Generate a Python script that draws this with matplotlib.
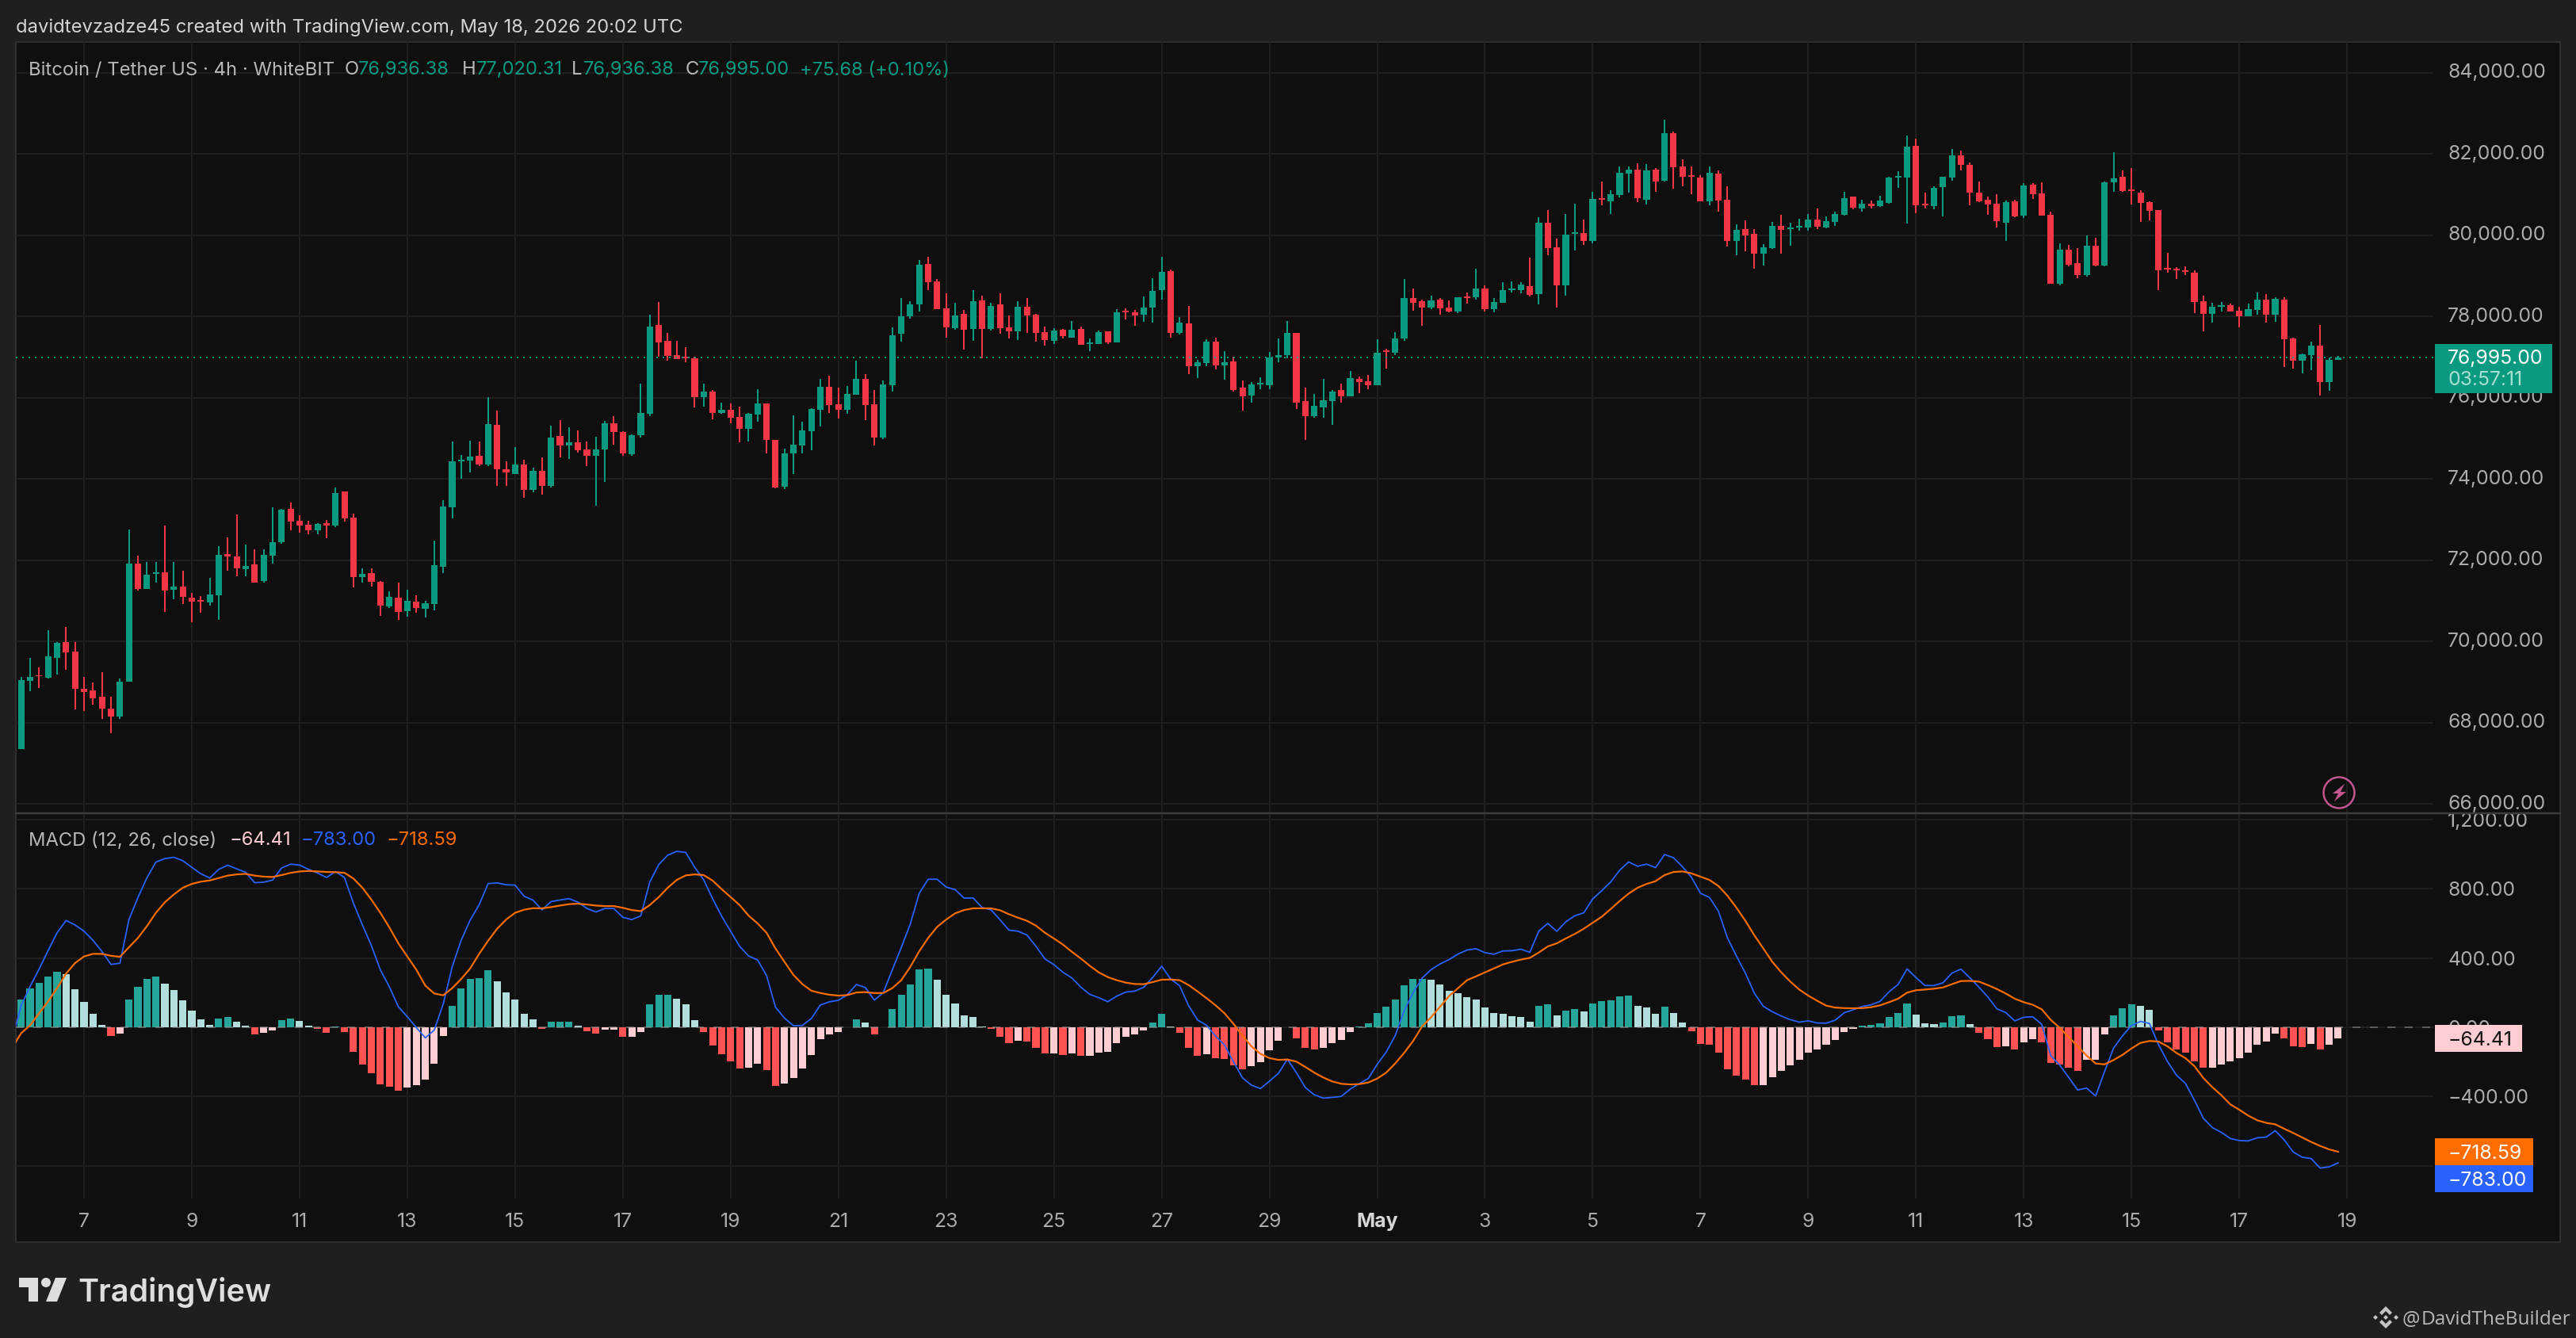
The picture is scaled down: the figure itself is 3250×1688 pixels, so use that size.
import matplotlib
matplotlib.use("Agg")
import matplotlib.pyplot as plt
from matplotlib.patches import Rectangle, Polygon, Circle
from matplotlib.transforms import Bbox

# 4h BTC/USDT candles
opens = [67354,69034,69170,69112,69600,69991,69756,68838,68799,68643,
68350,68155,69014,71924,71299,71670,71709,71280,71358,71084,
71026,70967,71143,72158,72100,71787,71904,71494,72119,72452,
73271,72979,72881,72744,72920,72862,73701,73057,71592,71690,
71475,70869,71084,70752,70987,70810,70928,71846,73310,74424,
74444,74561,74365,75322,74248,74131,74365,73740,74209,73838,
75049,74815,74893,74717,74561,74717,75361,75147,74600,75069,
75596,77779,77408,77056,77017,76978,76021,76158,75622,75701,
75525,75232,75583,75857,74958,73813,74626,74822,75173,75701,
76275,75832,75695,76066,76457,75832,75012,76301,77570,78000,
78293,79289,78859,78195,77707,78059,77688,78391,77688,78293,
77727,77629,78234,78039,77609,77395,77668,77473,77688,77316,
77316,77629,77355,78137,78098,78039,78215,78645,79113,77590,
77824,76770,76848,77375,76789,76887,76242,76047,76320,76301,
76984,77043,77590,75910,75539,75754,75910,76184,76027,76457,
76398,76301,77160,77102,77453,78449,78371,78215,78410,78215,
78117,78488,78469,78684,78176,78332,78645,78645,78742,78547,
80305,79699,78762,80031,80051,79857,80910,80832,80988,81515,
81612,80871,81612,81339,82509,81690,81475,81417,80832,81515,
80871,79857,80150,80032,79545,79681,80228,80150,80189,80189,
80384,80189,80325,80500,80949,80656,80773,80715,80793,81417,
81417,82197,80773,80715,81183,81417,81963,81729,81046,80871,
80773,80306,80832,80481,81241,81027,80500,78804,79642,79311,
79018,79740,79253,81300,81436,81125,81046,80812,80618,79194,
79175,79135,79077,78375,78063,78238,78277,78141,78004,78160,
78414,78043,78414,77458,76912,77049,77283,76386,76936]

closes = [69047,69131,69138,69639,69971,69737,68838,68760,68604,68350,
68155,69014,71924,71299,71651,71709,71260,71358,71104,70987,
70987,71162,72139,72100,71807,71866,71455,72139,72452,73252,
72959,72862,72744,72901,72862,73662,73037,71592,71670,71475,
70889,71104,70733,71006,70830,70947,71885,73329,74424,74463,
74541,74365,75342,74229,74151,74346,73740,74209,73838,75010,
74815,74893,74698,74561,74717,75361,75147,74619,75069,75615,
77759,77368,77036,76958,76978,76021,76158,75622,75701,75505,
75232,75603,75857,74958,73787,74626,74841,75193,75720,76275,
75818,75695,76086,76457,75813,75012,76320,77531,78000,78293,
79269,78840,78176,77727,78020,77668,78371,77688,78254,77707,
77629,78234,78020,77590,77414,77648,77512,77668,77297,77355,
77609,77355,78098,78098,78020,78215,78625,79094,77590,77844,
76770,76867,77375,76789,76867,76184,76027,76320,76359,76984,
77043,77590,75871,75539,75793,75930,76145,76027,76477,76379,
76301,77102,77121,77453,78449,78332,78215,78391,78195,78117,
78469,78449,78684,78176,78352,78645,78684,78781,78527,80305,
79680,78762,80012,80070,79855,80890,80871,81007,81534,81612,
80910,81592,81320,82509,81670,81436,81436,80832,81534,80851,
79857,80130,79994,79545,79701,80228,80130,80189,80228,80384,
80208,80345,80520,80910,80676,80773,80715,80851,81417,81456,
82177,80735,80735,81163,81436,81963,81729,81046,80832,80754,
80345,80812,80461,81222,81007,80481,78804,79642,79272,79018,
79740,79253,81300,81398,81086,81086,80793,80598,79135,79155,
79135,79097,78355,78063,78238,78277,78121,78004,78180,78414,
78043,78433,77439,76912,77068,77283,76386,76932,76995]

highs = [69125,69600,69366,70284,69991,70362,69991,69131,68995,69248,
68643,69092,72764,72119,71963,71963,72862,71963,71748,71201,
71123,71573,72354,72568,73135,72393,72276,72276,73310,73271,
73428,73115,72979,72920,72998,73799,73701,73154,71807,71807,
71494,71240,71455,71280,71143,71006,72490,73486,74912,74580,
74932,74912,76021,75680,74443,74776,74463,74268,74522,75303,
75440,75264,75186,74912,75030,75420,75537,75166,75088,76346,
78033,78345,77603,77408,77251,77017,76353,76197,75876,75857,
75779,75622,76216,75857,74958,74743,75564,75408,75740,76470,
76548,76242,76281,76906,76574,76184,76418,77727,78449,78371,
79387,79465,78918,78566,78332,78156,78645,78508,78332,78566,
78020,78371,78449,78059,77746,77707,77688,77883,77746,77453,
77648,77629,78176,78195,78156,78488,78937,79465,79152,77980,
78254,76926,77434,77473,77141,77004,76418,76379,76496,77121,
77453,77883,77590,76242,76086,76457,76184,76340,76652,76516,
76555,77434,77199,77609,78918,78684,78410,78508,78449,78391,
78469,78586,79172,78762,78449,78840,78859,78840,79445,80441,
80617,79914,80519,80773,80383,81066,81320,81105,81690,81690,
81768,81748,81651,82840,82548,81866,81690,81475,81690,81592,
81203,80266,80364,80150,79779,80325,80500,80306,80403,80520,
80656,80461,80578,81066,80949,80871,80851,80968,81436,81573,
82450,82372,81046,81203,81436,82119,82080,81788,81320,80949,
81007,80851,80871,81280,81280,81300,80578,79798,79760,79681,
79994,79935,81320,82041,81592,81651,81105,80832,80618,79565,
79214,79233,79135,78512,78336,78355,78316,78238,78316,78590,
78551,78472,78472,77478,77088,77380,77790,76990,77020]

lows = [67354,68780,68845,69092,69190,69307,68331,68292,68448,68096,
67745,68096,69014,71260,71299,71449,70733,71045,70928,70479,
70713,70889,70537,71748,71612,71612,71449,71455,71924,72413,
72744,72686,72647,72647,72549,72823,72959,71338,71449,71358,
70635,70830,70537,70615,70700,70596,70772,71690,73037,74014,
74170,74326,74307,73838,73819,74131,73545,73675,73617,73780,
74522,74483,74646,74307,73350,73935,74835,74561,74561,75010,
75544,77017,76919,76958,76880,75767,75787,75466,75603,75369,
74900,74919,75408,74626,73767,73748,74118,74626,74704,75290,
75622,75481,75598,76066,75442,74817,74973,76145,77375,77941,
78117,78645,78176,77473,77668,77180,77395,76971,77648,77570,
77453,77414,77590,77375,77277,77316,77453,77473,77297,77141,
77316,77316,77355,77922,77766,77863,77844,78410,77473,77551,
76574,76477,76770,76691,76438,76145,75676,75871,76203,76203,
76867,76965,75715,74953,75500,75500,75324,75871,76027,76106,
76203,76301,76711,77043,77395,78137,77766,78176,78039,78098,
78078,78312,78410,78117,78098,78332,78586,78566,78488,78293,
79504,78215,78508,79621,79758,79798,80735,80520,80930,81046,
80812,80754,81066,81320,81144,81203,81007,80832,80735,80578,
79720,79505,79603,79175,79253,79662,79545,79740,80111,80111,
80150,80169,80228,80481,80637,80578,80656,80695,80773,81163,
80286,80540,80656,80637,80461,81339,81592,80734,80812,80500,
80189,79857,80442,80422,80890,80481,78804,78765,79233,78940,
78979,79233,79233,81066,81066,80754,80325,80364,78648,79077,
78921,79019,78082,77634,77849,78121,78121,77735,78004,78043,
77848,77868,76755,76716,76600,76677,76055,76172,76936]

# MACD histogram and signal line
hist = [160,224,256,293,320,307,220,146,78,14,
-50,-37,160,233,279,293,252,215,156,96,
46,14,50,60,32,9,-41,-32,-18,41,
50,37,9,-9,-32,3,-27,-142,-215,-265,
-330,-343,-366,-348,-334,-302,-211,-50,124,224,
279,284,330,265,201,160,78,46,-9,32,
32,32,9,-23,-37,-14,-14,-55,-55,-27,
133,188,188,165,133,41,-27,-105,-156,-197,
-238,-233,-211,-247,-339,-325,-293,-238,-160,-69,
-41,-27,2,46,27,-41,2,105,188,247,
334,339,275,188,137,69,60,5,-9,-55,
-92,-78,-82,-119,-151,-151,-160,-151,-165,-165,
-146,-142,-92,-55,-41,-18,27,78,3,-32,
-119,-165,-156,-178,-183,-220,-243,-224,-201,-133,
-78,2,-64,-119,-128,-119,-92,-73,-27,3,
23,82,119,160,243,279,279,275,247,211,
197,174,160,114,82,78,64,60,32,124,
133,69,96,105,92,137,151,156,178,183,
124,114,78,119,82,27,-23,-96,-101,-146,
-243,-279,-302,-334,-334,-288,-252,-220,-188,-146,
-128,-101,-73,-27,-9,9,14,23,60,82,
137,73,23,18,27,64,69,18,-32,-69,
-114,-110,-128,-87,-69,-87,-206,-215,-233,-252,
-188,-188,-41,69,110,133,124,101,-18,-87,
-128,-146,-197,-233,-233,-215,-197,-178,-146,-101,
-82,-37,-64,-110,-114,-96,-128,-101,-64.41]

signal = [-34,12,81,150,226,310,371,409,424,424,
413,407,462,516,584,661,722,767,806,828,
841,848,862,876,883,886,876,870,868,879,
892,900,903,900,897,896,892,859,806,737,
661,577,485,409,333,241,195,185,226,279,
340,424,500,569,622,661,679,688,687,694,
703,711,714,709,703,700,700,690,677,671,
706,752,806,851,877,883,879,847,798,752,
706,645,600,546,455,378,302,249,211,198,
188,183,186,201,203,198,198,226,272,348,
439,516,580,622,658,677,687,687,687,676,
653,633,615,587,546,513,478,436,397,355,
317,290,272,258,250,249,261,275,276,272,
244,207,168,127,81,20,-49,-110,-153,-178,
-188,-186,-198,-229,-262,-290,-313,-326,-330,-328,
-319,-296,-262,-209,-148,-79,5,58,119,180,
226,272,294,317,340,363,378,391,401,432,
467,485,513,539,569,604,638,683,729,772,
806,828,844,879,897,900,889,870,851,816,
760,691,615,531,455,378,317,264,218,183,
153,125,114,111,110,111,116,127,145,165,
200,214,218,223,230,249,267,268,264,244,
221,195,165,145,130,104,43,-3,-56,-110,
-163,-209,-214,-189,-159,-122,-90,-79,-82,-110,
-148,-178,-224,-293,-346,-392,-445,-476,-510,-537,
-552,-560,-586,-610,-636,-662,-685,-705,-718.59]

# the bar just off the left edge, both lines run in from it
signal_before = -117
macd_before = -72

price_ticks = [66000,68000,70000,72000,74000,76000,78000,80000,82000,84000]
macd_ticks = [-800,-400,0,400,800,1200]
day_ticks = [7,19,31,43,55,67,79,91,103,115,127,139,151,163,175,187,199,211,223,235,247,259]
day_labels = ['7','9','11','13','15','17','19','21','23','25','27','29','May','3','5','7','9','11','13','15','17','19']

GREEN = '#089981'
RED = '#F23645'
GRID = '#1e1e1e'
AXIS_TXT = '#ababab'
W, H = 3250, 1688

plt.rcParams['font.family'] = ['Inter', 'DejaVu Sans']


def px(v):
    # pixels to points at dpi 100
    return v * 0.72


def rect(top, bottom, left=20, right=3070):
    return [left / W, 1 - bottom / H, (right - left) / W, (bottom - top) / H]


fig = plt.figure(figsize=(W / 100, H / 100), dpi=100, facecolor='#1f1f1f')

back = fig.add_axes([0, 0, 1, 1], zorder=0)
back.set_xlim(0, W)
back.set_ylim(H, 0)
back.axis('off')
back.add_patch(Rectangle((20, 53), 3210, 1514, fc='#0f0f0f', ec='#2e2e2e', lw=px(2)))

ax = fig.add_axes(rect(53, 1026), zorder=1, facecolor='none')
ax2 = fig.add_axes(rect(1026, 1512), zorder=1, facecolor='none', sharex=ax)

idx = list(range(len(closes)))

# candles
colors = [GREEN if c >= o else RED for o, c in zip(opens, closes)]
ax.vlines(idx, lows, highs, colors=colors, lw=px(2), zorder=3)
ax.bar(idx, [abs(c - o) for o, c in zip(opens, closes)],
       bottom=[min(o, c) for o, c in zip(opens, closes)],
       width=0.72, color=colors, lw=0, zorder=4)
ax.axhline(closes[-1], color=GREEN, lw=px(2), linestyle=(0, (1, 3)), zorder=5)

ax.set_ylim(65772, 84753)
ax.set_yticks(price_ticks)
ax.set_yticklabels(['{:,.2f}'.format(t) for t in price_ticks])

# macd panel
bar_colors = []
for i, h in enumerate(hist):
    prev = hist[i - 1] if i > 0 else h
    if h >= 0:
        bar_colors.append('#26A69A' if h >= prev else '#B2DFDB')
    else:
        bar_colors.append('#FF5252' if h < prev else '#FFCDD2')
macd_line = [s + h for s, h in zip(signal, hist)]
line_x = [-1] + idx

ax2.bar(idx, hist, width=0.8, color=bar_colors, lw=0, zorder=3)
ax2.axhline(0, color='#9b9b9b', alpha=0.5, lw=px(2), linestyle=(0, (5, 6)), zorder=4)
ax2.plot(line_x, [macd_before] + macd_line, color='#2962FF', lw=px(1.8), zorder=5)
ax2.plot(line_x, [signal_before] + signal, color='#FF6D00', lw=px(2.2), zorder=6)
ax2.set_ylim(-988.6, 1236)
ax2.set_yticks(macd_ticks)
ax2.set_yticklabels([('\u2212' if t < 0 else '') + '{:,.2f}'.format(abs(t)) for t in macd_ticks])

ax2.set_xticks(day_ticks)
ax2.set_xticklabels(day_labels)
ax.set_xlim((20 - 26.7) / 11.33, (3070 - 26.7) / 11.33)

for a in (ax, ax2):
    a.grid(True, color=GRID, lw=px(2), zorder=0)
    a.set_axisbelow(True)
    a.yaxis.tick_right()
    a.tick_params(axis='y', length=0, pad=px(18), labelsize=px(24.8), labelcolor=AXIS_TXT)
    a.tick_params(axis='x', length=0, labelsize=px(24.8), labelcolor=AXIS_TXT, pad=px(18))
    for s in a.spines.values():
        s.set_visible(False)
for lab in ax.get_yticklabels():
    lab.set_verticalalignment('center')
ax.tick_params(axis='x', labelbottom=False)
for lab in ax2.get_xticklabels():
    if lab.get_text() == 'May':
        lab.set_fontweight('bold')
        lab.set_color('#d6d6d6')
# 1,200.00 gets cut by the pane separator
for lab in ax2.get_yticklabels():
    lab.set_clip_box(Bbox([[0, 0], [W, H - 1027]]))
    lab.set_clip_on(True)

# everything around the panes, in image pixels
top = fig.add_axes([0, 0, 1, 1], zorder=5)
top.set_xlim(0, W)
top.set_ylim(H, 0)
top.axis('off')
top.patch.set_alpha(0)


def label(x, y, s, color, size=24.8, ha='left', **kw):
    top.text(x, y, s, color=color, fontsize=px(size), ha=ha, va='center_baseline', **kw)


def tag(y0, y1, x1, color):
    top.add_patch(Rectangle((3072, y0), x1 - 3072, y1 - y0, fc=color, lw=0))


top.plot([20, 3230], [1026, 1026], color='#3c3c3c', lw=px(2.5))

label(20, 32, 'davidtevzadze45 created with TradingView.com, May 18, 2026 20:02 UTC', '#d4d4d4', 23.8)

label(36, 86, 'Bitcoin / Tether US \u00b7 4h \u00b7 WhiteBIT', '#b8b8b8', 23.8)
for x, s in [(435, 'O'), (583, 'H'), (721, 'L'), (865, 'C')]:
    label(x, 86, s, '#b8b8b8', 23.8)
for x, s in [(452, '76,936.38'), (601, '77,020.31'), (736, '76,936.38'), (881, '76,995.00'), (1009, '+75.68 (+0.10%)')]:
    label(x, 86, s, GREEN, 23.8)

label(36, 1058, 'MACD (12, 26, close)', '#b8b8b8', 23.8)
label(289, 1058, '\u221264.41', '#FFCDD2', 23.8)
label(380, 1058, '\u2212783.00', '#2962FF', 23.8)
label(487, 1058, '\u2212718.59', '#FF6D00', 23.8)

# last price and indicator tags
tag(434, 496, 3220, '#0a9a80')
label(3088, 450, '76,995.00', '#ffffff')
label(3088, 477, '03:57:11', '#a6dfd3')
tag(1293, 1327, 3182, '#FFCDD2')
label(3088, 1310, '\u221264.41', '#131313')
tag(1436, 1470, 3196, '#FF6D00')
label(3088, 1453, '\u2212718.59', '#ffffff')
tag(1470, 1504, 3196, '#2962FF')
label(3088, 1487, '\u2212783.00', '#ffffff')

# lightning badge
top.add_patch(Circle((2951, 1000), 19.5, fc='none', ec='#c2568f', lw=px(2.5)))
top.add_patch(Polygon([(2958, 989), (2943, 1001), (2950, 1001), (2945, 1011), (2960, 999), (2953, 999)],
                      fc='#c2568f', lw=0))

# tradingview logo
LOGO = '#dedede'
top.add_patch(Polygon([(24, 1612), (48, 1612), (48, 1642), (36, 1642), (36, 1624), (24, 1624)], fc=LOGO, lw=0))
top.add_patch(Circle((58, 1618), 6, fc=LOGO, lw=0))
top.add_patch(Polygon([(70, 1612), (84, 1612), (72, 1642), (58, 1642)], fc=LOGO, lw=0))
label(98, 1627, 'TradingView', LOGO, 39.5, fontweight='semibold')

# binance mark and handle
cx, cy = 3010, 1662
MARK = '#c4c4c4'
top.add_patch(Polygon([(cx, cy - 14), (cx + 8, cy - 6), (cx + 5, cy - 3), (cx, cy - 8), (cx - 5, cy - 3), (cx - 8, cy - 6)], fc=MARK, lw=0))
top.add_patch(Polygon([(cx, cy + 14), (cx + 8, cy + 6), (cx + 5, cy + 3), (cx, cy + 8), (cx - 5, cy + 3), (cx - 8, cy + 6)], fc=MARK, lw=0))
top.add_patch(Polygon([(cx, cy - 3), (cx + 3, cy), (cx, cy + 3), (cx - 3, cy)], fc=MARK, lw=0))
top.add_patch(Polygon([(cx - 13, cy - 3), (cx - 10, cy), (cx - 13, cy + 3), (cx - 16, cy)], fc=MARK, lw=0))
top.add_patch(Polygon([(cx + 13, cy - 3), (cx + 16, cy), (cx + 13, cy + 3), (cx + 10, cy)], fc=MARK, lw=0))
top.text(3030, 1662, '@', color='#b8b8b8', fontsize=px(25), family='Open Sans', ha='left', va='center_baseline')
top.text(3055, 1662, 'DavidTheBuilder', color='#b8b8b8', fontsize=px(24.4), family='Open Sans', ha='left', va='center_baseline')

fig.savefig('out.png', dpi=100, facecolor=fig.get_facecolor())
